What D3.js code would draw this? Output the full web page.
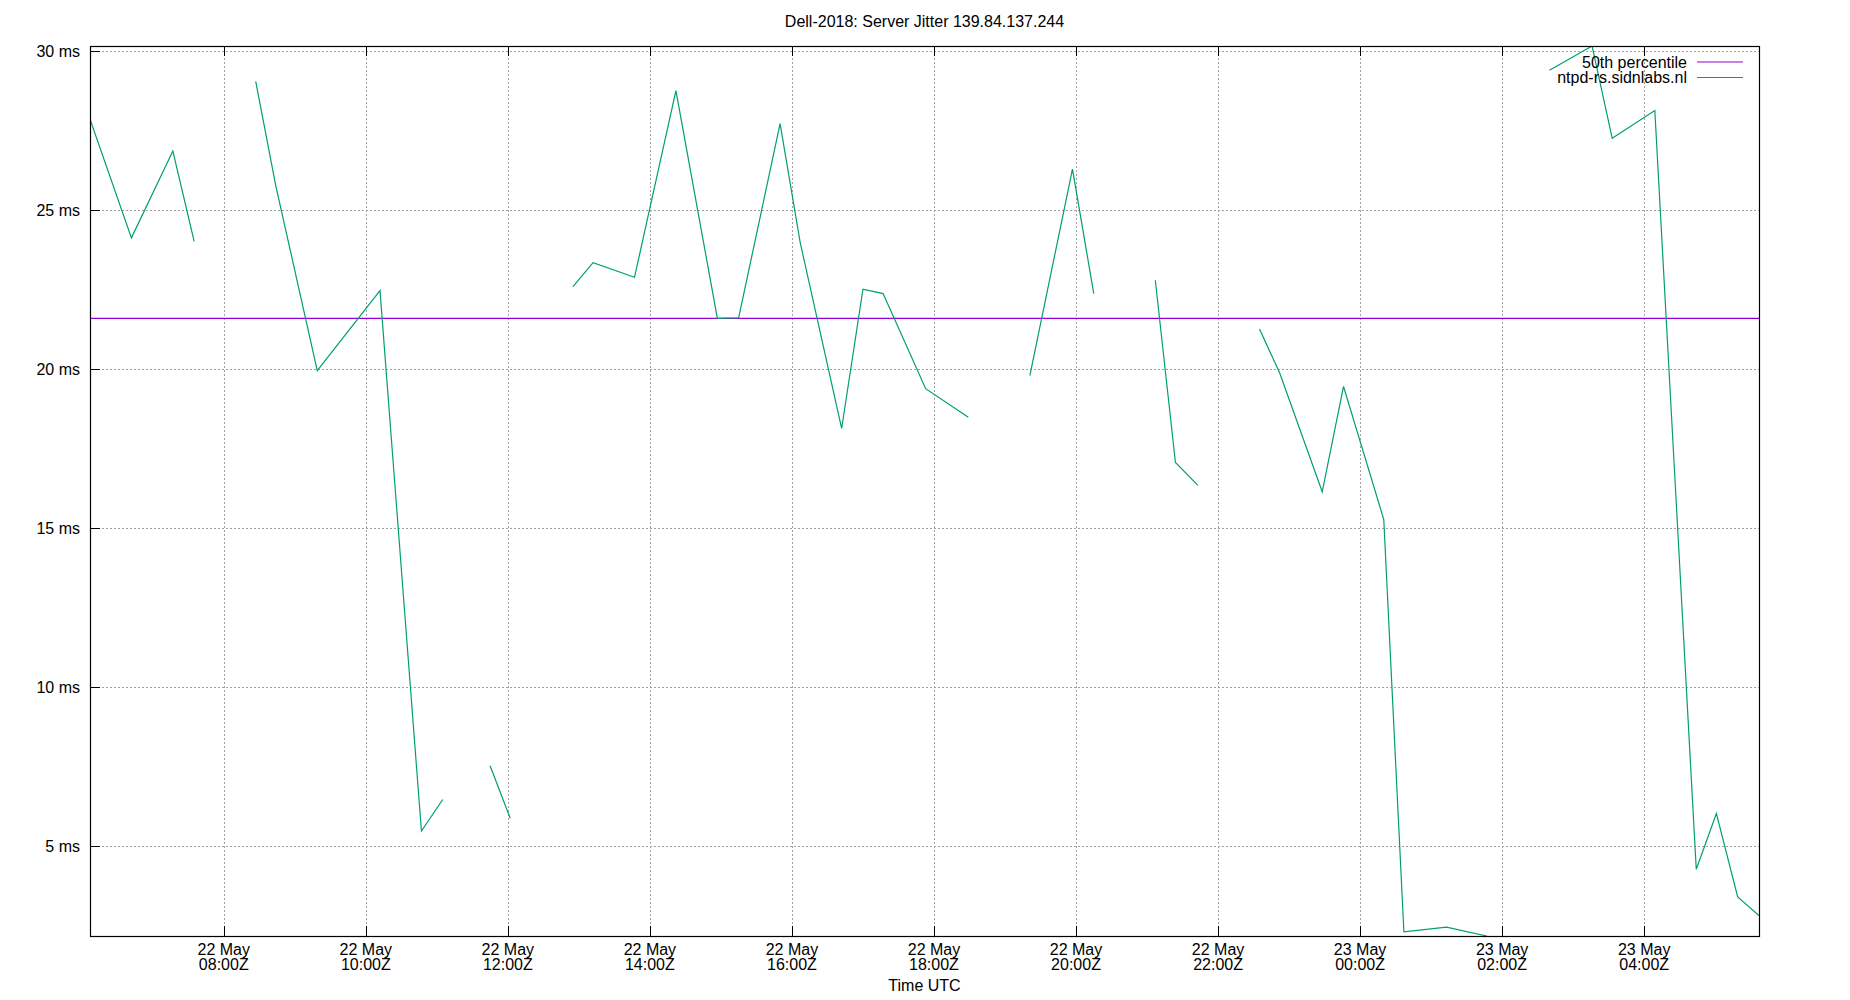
<!DOCTYPE html>
<html>
<head>
<meta charset="utf-8">
<script src="https://cdn.jsdelivr.net/npm/d3@7.9.0/dist/d3.min.js"></script>
<style>
  body { margin: 0; background: #fff; }
  svg text { font-family: "Liberation Sans", Arial, sans-serif; font-size: 16px; fill: #000; }
</style>
</head>
<body>
<svg id="chart" width="1850" height="1000"></svg>
<script>
// sample times (UTC); null jitter = gap in the data
const times = [
  "22 May 06:07", "22 May 06:42", "22 May 07:17", "22 May 07:35", "22 May 08:00",
  "22 May 08:27", "22 May 08:44", "22 May 09:19", "22 May 10:12", "22 May 10:47", "22 May 11:05", "22 May 11:25",
  "22 May 11:45", "22 May 12:02", "22 May 12:30",
  "22 May 12:55", "22 May 13:12", "22 May 13:47", "22 May 14:22", "22 May 14:57", "22 May 15:15",
  "22 May 15:50", "22 May 16:07", "22 May 16:42", "22 May 17:00", "22 May 17:17", "22 May 17:53",
  "22 May 18:29", "22 May 18:55",
  "22 May 19:21", "22 May 19:57", "22 May 20:15", "22 May 20:40",
  "22 May 21:07", "22 May 21:24", "22 May 21:43", "22 May 22:10",
  "22 May 22:35", "22 May 22:52", "22 May 23:28", "22 May 23:46", "23 May 00:20", "23 May 00:37",
  "23 May 01:13", "23 May 01:47", "23 May 02:15",
  "23 May 02:40", "23 May 03:16", "23 May 03:33", "23 May 04:09", "23 May 04:44", "23 May 05:01",
  "23 May 05:19", "23 May 05:37"
];
const jitter = [
  27.85, 24.12, 26.85, 24.01, null,
  29.04, 25.75, 19.95, 22.46, 5.48, 6.47, null,
  7.53, 5.88, null,
  22.59, 23.34, 22.88, 28.75, 21.59, 21.61,
  27.71, 23.97, 18.13, 22.51, 22.37, 19.38,
  18.48, null,
  19.79, 26.28, 22.37, null,
  22.79, 17.06, 16.34, null,
  21.26, 19.88, 16.14, 19.45, 15.27, 2.31,
  2.46, 2.18, null,
  29.39, 30.15, 27.25, 28.12, 4.28, 6.03,
  3.41, 2.82
];
const p50 = 21.59;
const yTicks = [5, 10, 15, 20, 25, 30];
const title = "Dell-2018: Server Jitter 139.84.137.244";
const seriesNames = ["50th percentile", "ntpd-rs.sidnlabs.nl"];
const seriesColors = ["#9400d3", "#009e73"];

const parse = d3.utcParse("%d %b %H:%M");
const data = times.map((t, i) => ({ t: parse(t), v: jitter[i] }));

const L = 90, R = 1759, T = 46, B = 936;
const svg = d3.select("#chart");

const x = d3.scaleUtc().domain(d3.extent(data, d => d.t)).range([L, R]);
const y = d3.scaleLinear().domain(d3.extent(jitter)).range([B, T]);
const xTicks = x.ticks(d3.utcHour.every(2));

// grid
const grid = svg.append("g").attr("stroke", "#a0a0a0").attr("stroke-width", 1).attr("stroke-dasharray", "2,2");
xTicks.forEach(d => {
  grid.append("line").attr("x1", Math.round(x(d)) + 0.5).attr("x2", Math.round(x(d)) + 0.5).attr("y1", T).attr("y2", B);
});
yTicks.forEach(d => {
  grid.append("line").attr("x1", L).attr("x2", R).attr("y1", Math.round(y(d)) + 0.5).attr("y2", Math.round(y(d)) + 0.5);
});

// ticks (inward; x mirrored on top)
const ticks = svg.append("g").attr("stroke", "#000").attr("stroke-width", 1);
xTicks.forEach(d => {
  const px = Math.round(x(d)) + 0.5;
  ticks.append("line").attr("x1", px).attr("x2", px).attr("y1", B).attr("y2", B - 10);
  ticks.append("line").attr("x1", px).attr("x2", px).attr("y1", T).attr("y2", T + 10);
});
yTicks.forEach(d => {
  const py = Math.round(y(d)) + 0.5;
  ticks.append("line").attr("x1", L).attr("x2", L + 10).attr("y1", py).attr("y2", py);
});

// tick labels
const fmtDay = d3.utcFormat("%d %b"), fmtHour = d3.utcFormat("%H:%MZ");
xTicks.forEach(d => {
  const t = svg.append("text").attr("x", x(d)).attr("text-anchor", "middle");
  t.append("tspan").attr("x", x(d)).attr("y", 955).text(fmtDay(d));
  t.append("tspan").attr("x", x(d)).attr("y", 970).text(fmtHour(d));
});
yTicks.forEach(d => {
  svg.append("text").attr("x", 80).attr("y", y(d) + 6).attr("text-anchor", "end").text(d + " ms");
});

// clip to plot area
svg.append("clipPath").attr("id", "plot").append("rect")
  .attr("x", L).attr("y", T).attr("width", R - L).attr("height", B - T);

// median
svg.append("line").attr("clip-path", "url(#plot)")
  .attr("x1", L).attr("x2", R).attr("y1", y(p50)).attr("y2", y(p50))
  .attr("stroke", seriesColors[0]).attr("stroke-width", 1.2);

// jitter series
const line = d3.line().defined(d => d.v !== null).x(d => x(d.t)).y(d => y(d.v));
svg.append("path").datum(data).attr("clip-path", "url(#plot)")
  .attr("d", line).attr("fill", "none")
  .attr("stroke", seriesColors[1]).attr("stroke-width", 1.2).attr("stroke-linejoin", "miter");

// border
svg.append("rect").attr("x", L + 0.5).attr("y", T + 0.5).attr("width", R - L).attr("height", B - T)
  .attr("fill", "none").attr("stroke", "#000").attr("stroke-width", 1.2);

// legend
seriesNames.forEach((name, i) => {
  const ly = 62 + i * 15.5;
  svg.append("text").attr("x", 1687).attr("y", ly + 5.5).attr("text-anchor", "end").text(name);
  svg.append("line").attr("x1", 1697).attr("x2", 1743).attr("y1", ly).attr("y2", ly)
    .attr("stroke", seriesColors[i]).attr("stroke-width", 1.2);
});

// titles
svg.append("text").attr("x", (L + R) / 2 + 0).attr("y", 27).attr("text-anchor", "middle").text(title);
svg.append("text").attr("x", (L + R) / 2).attr("y", 991).attr("text-anchor", "middle").text("Time UTC");
</script>
</body>
</html>
